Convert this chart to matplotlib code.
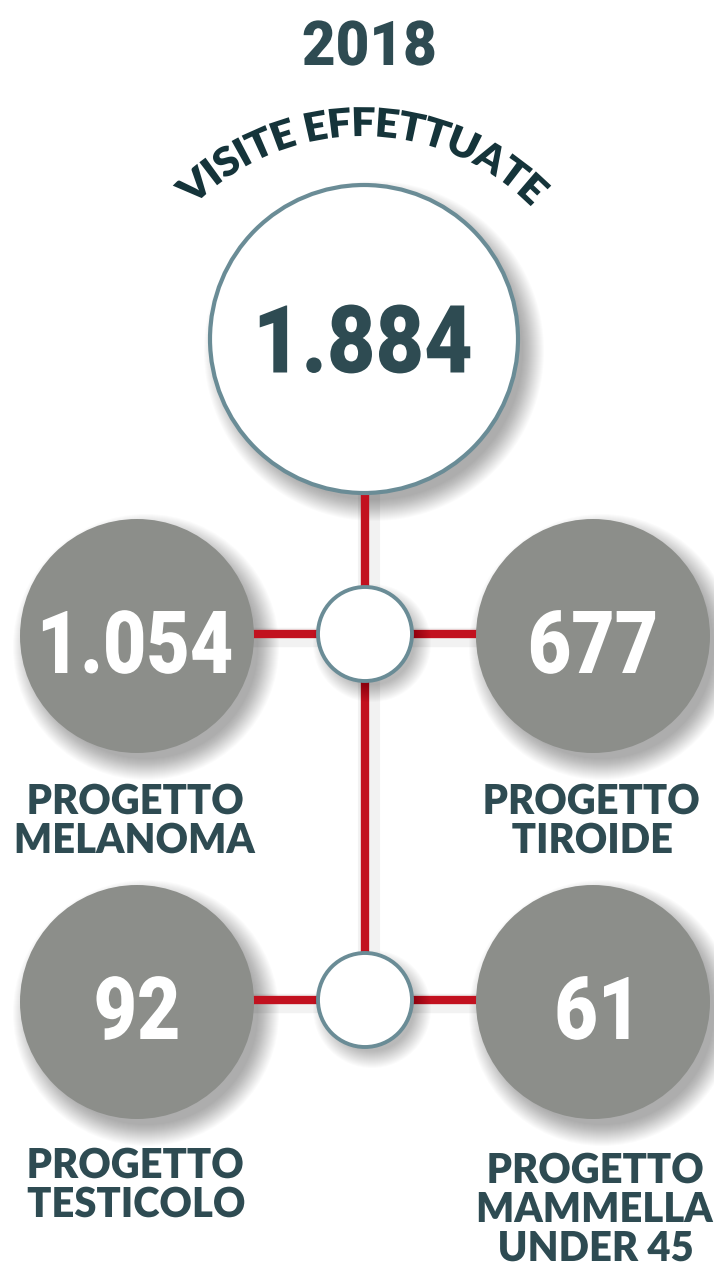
"""Infographic: visite effettuate 2018, total and per-project breakdown."""

import matplotlib

matplotlib.use("Agg")
import matplotlib.pyplot as plt
import numpy as np
from matplotlib.font_manager import FontProperties
from matplotlib.patches import Circle, PathPatch
from matplotlib.path import Path
from matplotlib.textpath import TextPath
from matplotlib.transforms import Affine2D

# data
YEAR = "2018"
TITLE = "VISITE EFFETTUATE"
TOTAL = 1884
PROJECT_VALUES = [1054, 677, 92, 61]
PROJECT_LABELS = [
    "PROGETTO\nMELANOMA",
    "PROGETTO\nTIROIDE",
    "PROGETTO\nTESTICOLO",
    "PROGETTO\nMAMMELLA\nUNDER 45",
]

# palette
INK = "#2e4b52"
INK_DARK = "#15343a"
RING = "#6a8c96"
GREY = "#8c8e8a"
RED = "#c2111f"

NUM_FONT = FontProperties(family=["Roboto", "DejaVu Sans"], weight="black")
LAB_FONT = FontProperties(family=["Lato", "DejaVu Sans"], weight="heavy")


def fmt(v):
    return f"{v:,}".replace(",", ".")


def cap_height(fp):
    return TextPath((0, 0), "H", size=100, prop=fp).get_extents().height / 100


def draw_text(ax, s, x, y, cap, color, fp, xscale=1.0, z=5):
    # text as a path so it can be condensed; (x, y) = centre of cap height
    tp = TextPath((0, 0), s, size=100, prop=fp)
    ext = tp.get_extents()
    k = cap / (cap_height(fp) * 100)
    tr = (Affine2D().translate(-(ext.x0 + ext.x1) / 2, 0)
          .scale(k * xscale, -k).translate(x, y + cap / 2))
    ax.add_patch(PathPatch(tr.transform_path(tp), fc=color, ec="none", zorder=z))


def draw_lines(ax, lines, x, y0, cap, step, color, fp, xscale=1.0):
    for i, s in enumerate(lines.split("\n")):
        draw_text(ax, s, x, y0 + i * step, cap, color, fp, xscale)


def arc_text(ax, s, cx, cy, r_base, cap, color, fp, spread=1.0):
    tp = TextPath((0, 0), s, size=100, prop=fp)
    ext = tp.get_extents()
    k = cap / (cap_height(fp) * 100)
    v = tp.vertices.copy()
    u = (v[:, 0] - (ext.x0 + ext.x1) / 2) * k * spread
    h = v[:, 1] * k
    th = u / r_base
    rr = r_base + h
    verts = np.column_stack([cx + rr * np.sin(th), cy - rr * np.cos(th)])
    ax.add_patch(PathPatch(Path(verts, tp.codes), fc=color, ec="none", zorder=5))


def shadow(ax, x, y, r, dx=7, dy=9, z=1, spread=14):
    n = spread + 6
    for i in range(n):
        ax.add_patch(Circle((x + dx, y + dy), r + spread - i, fc="black",
                            ec="none", alpha=0.016, zorder=z))


fig = plt.figure(figsize=(7.14, 12.64), dpi=100, facecolor="white")
ax = fig.add_axes([0, 0, 1, 1])
ax.set_xlim(0, 714)
ax.set_ylim(1264, 0)
ax.axis("off")

# header
draw_text(ax, YEAR, 369, 43, 44, INK, NUM_FONT, xscale=0.94)
arc_text(ax, TITLE, 362, 374, 238, 29, INK_DARK, LAB_FONT, spread=1.0)

# connectors
cx_mid = 365
node_y = [634, 1000]
ax.plot([cx_mid + 4, cx_mid + 4], [490, node_y[1]], color="black", alpha=0.05,
        lw=16, solid_capstyle="butt", zorder=1)
ax.plot([cx_mid, cx_mid], [480, node_y[1]], color=RED, lw=6,
        solid_capstyle="butt", zorder=2)
for ny in node_y:
    ax.plot([240, 490], [ny + 3, ny + 3], color="black", alpha=0.05, lw=14,
            solid_capstyle="butt", zorder=1)
    ax.plot([240, 490], [ny, ny], color=RED, lw=6, solid_capstyle="butt", zorder=2)

# main circle
shadow(ax, 364, 339, 154, dx=10, dy=12, spread=16)
ax.add_patch(Circle((364, 339), 154, fc="white", ec=RING, lw=3, zorder=3))
draw_text(ax, fmt(TOTAL), 365, 339, 67, INK, NUM_FONT, xscale=0.89)

# nodes
for ny in node_y:
    shadow(ax, cx_mid, ny, 47, dx=7, dy=9, z=2.5, spread=12)
    ax.add_patch(Circle((cx_mid, ny), 47, fc="white", ec=RING, lw=2.8, zorder=3))

# project circles
pos_x = [137, 593, 137, 593]
pos_y = [636, 636, 1002, 1002]
lab_x = [136, 592, 136, 596]
lab_y = [799, 799, 1163, 1168]
for v, lab, x, y, lx, ly in zip(PROJECT_VALUES, PROJECT_LABELS, pos_x, pos_y,
                                lab_x, lab_y):
    shadow(ax, x, y, 117, dx=9, dy=11, spread=16)
    ax.add_patch(Circle((x, y), 117, fc=GREY, ec="none", zorder=3))
    draw_text(ax, fmt(v), x, y + 6, 62, "white", NUM_FONT, xscale=0.86)
    draw_lines(ax, lab, lx, ly, 30, 39, INK, LAB_FONT, xscale=0.97)

fig.savefig("out.png", dpi=100, facecolor="white")
